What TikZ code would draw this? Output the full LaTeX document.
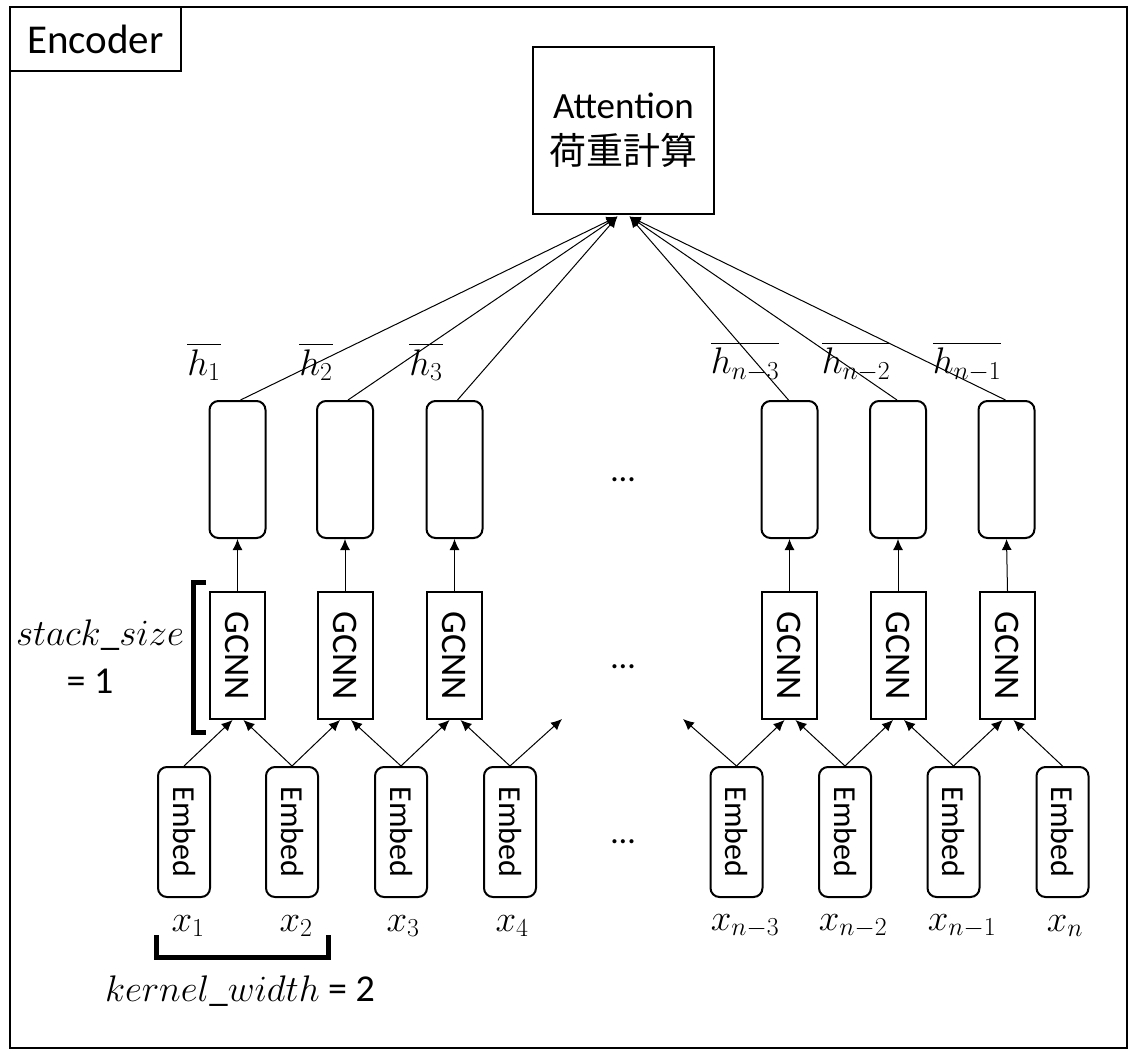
\documentclass[tikz,border=0pt]{standalone}
\usepackage{fix-cm}
\usepackage{fontspec}
\setmainfont{Carlito}
\newfontfamily\cjk{Noto Sans CJK JP}
\usetikzlibrary{arrows.meta}
\tikzset{
  box/.style={draw, line width=2pt, inner sep=0pt},
  hid/.style={box, rounded corners=9pt, minimum width=56pt, minimum height=137pt},
  gcnn/.style={box, minimum width=55pt, minimum height=127pt, font=\fontsize{36}{40}\selectfont},
  emb/.style={box, rounded corners=9pt, minimum width=52pt, minimum height=130pt, font=\fontsize{32}{36}\selectfont},
  lab/.style={inner sep=0pt, font=\fontsize{37}{42}\selectfont},
  txt/.style={inner sep=0pt, font=\fontsize{34}{40}\selectfont},
  eqtxt/.style={inner sep=0pt, font=\fontsize{38}{42}\selectfont},
  conn/.style={line width=1pt, -{Latex[length=11pt,width=10pt]}},
  brk/.style={line width=5pt}
}
\begin{document}
\begin{tikzpicture}[x=1pt,y=-1pt]
\useasboundingbox (0,0) rectangle (1130,1050);
\draw[line width=2pt] (10,7) rectangle (1127,1048);
\node[box, minimum width=171pt, minimum height=64pt, font=\fontsize{41}{45}\selectfont] (enc) at (95.5,39) {Encoder};
\node[box, minimum width=181pt, minimum height=167pt, align=center, font=\fontsize{37}{46}\selectfont] (att) at (623.5,130) {Attention\\[0pt]{\cjk 荷重計算}};

% hidden boxes
\foreach \n/\x in {h1/237.5,h2/345,h3/454.5,hn3/789.5,hn2/898,hn1/1006.5}
  \node[hid] (\n) at (\x,469.5) {};
% GCNN boxes
\foreach \n/\x in {g1/237.5,g2/345,g3/454.5,gn3/789.5,gn2/898,gn1/1007.5}
  \node[gcnn] (\n) at (\x,655.5) {\rotatebox{-90}{GCNN}};
% Embed boxes
\foreach \n/\x in {e1/184,e2/292,e3/401,e4/510,en3/736.5,en2/845,en1/953.5,en/1062.5}
  \node[emb] (\n) at (\x,832) {\rotatebox{-90}{Embed}};

% labels h
\node[lab] (lh1) at (204,362) {$\overline{\rule{0pt}{0.8em}h_1}$};
\node[lab] (lh2) at (316,362) {$\overline{\rule{0pt}{0.8em}h_2}$};
\node[lab] (lh3) at (426,362) {$\overline{\rule{0pt}{0.8em}h_3}$};
\node[lab] (lhn3) at (745,362) {$\overline{\rule{0pt}{0.8em}h_{n-3}}$};
\node[lab] (lhn2) at (856,362) {$\overline{\rule{0pt}{0.8em}h_{n-2}}$};
\node[lab] (lhn1) at (967,362) {$\overline{\rule{0pt}{0.8em}h_{n-1}}$};

% labels x
\node[lab] (lx1) at (188,926) {$x_1$};
\node[lab] (lx2) at (296,926) {$x_2$};
\node[lab] (lx3) at (403,926) {$x_3$};
\node[lab] (lx4) at (512,926) {$x_4$};
\node[lab] (lxn3) at (745,926) {$x_{n-3}$};
\node[lab] (lxn2) at (853,926) {$x_{n-2}$};
\node[lab] (lxn1) at (962,926) {$x_{n-1}$};
\node[lab] (lxn) at (1065,926) {$x_n$};

% dots
\node[txt] (d1) at (623,480) {…};
\node[txt] (d2) at (623,667) {…};
\node[txt] (d3) at (623,842) {…};

% stack size
\node[lab] (ss) at (100,635) {$stack\_size$};
\node[eqtxt] (ss1) at (90,681) {= 1};
\draw[brk] (206,582) -- (193,582) -- (193,732) -- (206,732);

% kernel width
\draw[brk] (156,935) -- (156,957) -- (328,957) -- (328,935);
\node[lab] (kw) at (240,991) {$kernel\_width$ {\fontsize{38}{42}\selectfont = 2}};

% hidden -> attention
\foreach \n in {h1,h2,h3}
  \draw[conn] ([xshift=3pt]\n.north) -- ([xshift=-6pt,yshift=-2pt]att.south);
\foreach \n in {hn3,hn2,hn1}
  \draw[conn] ([xshift=-1pt]\n.north) -- ([xshift=6pt,yshift=-2pt]att.south);

% GCNN -> hidden
\foreach \g/\h in {g1/h1,g2/h2,g3/h3,gn3/hn3,gn2/hn2,gn1/hn1}
  \draw[conn] (\g.north) -- (\h.south);

% embed -> GCNN
\draw[conn] (e1.north) -- ([xshift=-5pt]g1.south);
\draw[conn] (e2.north) -- ([xshift=6pt]g1.south);
\draw[conn] (e2.north) -- ([xshift=-5pt]g2.south);
\draw[conn] (e3.north) -- ([xshift=6pt]g2.south);
\draw[conn] (e3.north) -- ([xshift=-5pt]g3.south);
\draw[conn] (e4.north) -- ([xshift=6pt]g3.south);
\coordinate (fr) at (562,719);
\coordinate (fl) at (683,719);
\draw[conn] (e4.north) -- (fr);
\draw[conn] (en3.north) -- (fl);
\draw[conn] (en3.north) -- ([xshift=-5pt]gn3.south);
\draw[conn] (en2.north) -- ([xshift=6pt]gn3.south);
\draw[conn] (en2.north) -- ([xshift=-5pt]gn2.south);
\draw[conn] (en1.north) -- ([xshift=6pt]gn2.south);
\draw[conn] (en1.north) -- ([xshift=-5pt]gn1.south);
\draw[conn] (en.north) -- ([xshift=6pt]gn1.south);
\end{tikzpicture}
\end{document}
